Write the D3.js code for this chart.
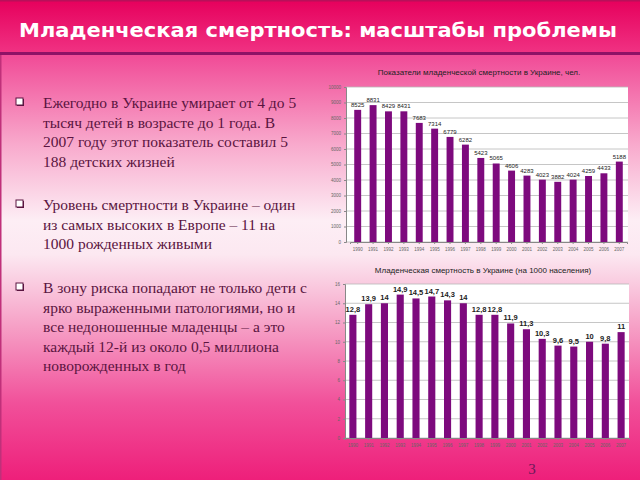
<!DOCTYPE html>
<html><head><meta charset="utf-8">
<script src="https://cdn.jsdelivr.net/npm/d3@7"></script>
<style>html,body{margin:0;padding:0;overflow:hidden;background:#fff}</style>
</head><body>
<script>
const years = ["1990","1991","1992","1993","1994","1995","1996","1997","1998","1999","2000","2001","2002","2003","2004","2005","2006","2007"];
const deaths = [8525,8831,8429,8431,7683,7314,6779,6282,5423,5065,4606,4283,4023,3882,4024,4259,4433,5188];
const rates = [12.8,13.9,14,14.9,14.5,14.7,14.3,14,12.8,12.8,11.9,11.3,10.3,9.6,9.5,10,9.8,11];
const deathTicks = [0,1000,2000,3000,4000,5000,6000,7000,8000,9000,10000];
const rateTicks = [0,2,4,6,8,10,12,14,16];
const title = "Младенческая смертность: масштабы проблемы";
const chart1Title = "Показатели младенческой смертности в Украине, чел.";
const chart2Title = "Младенческая смертность в Украине (на 1000 населения)";
const bullets = [
  ["Ежегодно в Украине умирает от 4 до 5","тысяч детей в возрасте до 1 года. В","2007 году этот показатель составил 5","188 детских жизней"],
  ["Уровень смертности в Украине – один","из самых высоких в Европе – 11 на","1000 рожденных живыми"],
  ["В зону риска попадают не только дети с","ярко выраженными патологиями, но и","все недоношенные младенцы – а это","каждый 12-й из около 0,5 миллиона","новорожденных в год"]
];

const svg = d3.select("body").append("svg").attr("width",640).attr("height",480);
const defs = svg.append("defs");
const bg = defs.append("linearGradient").attr("id","bg").attr("x1",0).attr("y1",0).attr("x2",0).attr("y2",1);
[[0,"#ee3d8f"],[0.12,"#f14d98"],[0.3,"#f8a9cc"],[0.46,"#fdeef5"],[0.53,"#fce8f1"],[0.68,"#f6a0c6"],[0.84,"#f1509a"],[1,"#ee1f7a"]]
  .forEach(s=>bg.append("stop").attr("offset",s[0]).attr("stop-color",s[1]));
const hd = defs.append("linearGradient").attr("id","hd").attr("x1",0).attr("y1",0).attr("x2",0).attr("y2",1);
[[0,"#e6005c"],[1,"#f03283"]].forEach(s=>hd.append("stop").attr("offset",s[0]).attr("stop-color",s[1]));

svg.append("rect").attr("width",640).attr("height",480).attr("fill","url(#bg)");
svg.append("rect").attr("width",640).attr("height",53).attr("fill","url(#hd)");
svg.append("rect").attr("y",0).attr("width",640).attr("height",1.5).attr("fill","#b8105a");
svg.append("rect").attr("y",52).attr("width",640).attr("height",3).attr("fill","#8e1266");
svg.append("rect").attr("x",0).attr("y",55).attr("width",1.5).attr("height",425).attr("fill","#c0307a");
svg.append("text").attr("x",318).attr("y",37).attr("text-anchor","middle")
  .attr("font-family","'DejaVu Sans',sans-serif").attr("font-weight","bold").attr("font-size",20)
  .attr("fill","#fff").attr("textLength",598).attr("lengthAdjust","spacingAndGlyphs").text(title);

// bullets
const lineH = 19.6;
const starts = [103,205,288];
const tg = svg.append("g").attr("font-family","'Liberation Serif','DejaVu Serif',serif").attr("font-size",15.5).attr("fill","#5a1440");
bullets.forEach((b,i)=>{
  const y0 = starts[i];
  tg.append("rect").attr("x",17).attr("y",y0-4).attr("width",7).attr("height",7).attr("fill","#5a1440");
  tg.append("rect").attr("x",16).attr("y",y0-5).attr("width",7).attr("height",7).attr("fill","#fff").attr("stroke","#5a1440").attr("stroke-width",1);
  b.forEach((l,j)=>{
    tg.append("text").attr("x",43).attr("y",y0+5+j*lineH).text(l);
  });
});
svg.append("text").attr("x",532).attr("y",474).attr("text-anchor","middle").attr("font-family","'Liberation Serif',serif")
  .attr("font-size",15).attr("fill","#6a1a58").text("3");

function chart(opt){
  const g = svg.append("g");
  const x = d3.scaleBand().domain(years).range(opt.xr).paddingInner(0.55).paddingOuter(0.275);
  const y = d3.scaleLinear().domain([0,opt.max]).range(opt.yr);
  g.append("rect").attr("x",opt.px[0]).attr("y",opt.yr[1]).attr("width",opt.px[1]-opt.px[0]).attr("height",opt.yr[0]-opt.yr[1]).attr("fill","#fff");
  g.selectAll("line.grid").data(opt.ticks).join("line").attr("class","grid")
    .attr("x1",opt.px[0]).attr("x2",opt.px[1]).attr("y1",d=>y(d)).attr("y2",d=>y(d)).attr("stroke","#b8b8b8").attr("stroke-width",0.8);
  const ya = g.append("g").attr("transform",`translate(${opt.px[0]},0)`)
    .call(d3.axisLeft(y).tickValues(opt.ticks).tickSize(2).tickFormat(opt.tf));
  ya.select(".domain").attr("stroke","#888");
  ya.selectAll(".tick line").attr("stroke","#888");
  ya.selectAll("text").attr("font-size",4.5).attr("fill","#666").attr("font-family","Arial,'Liberation Sans',sans-serif");
  const xa = g.append("g").attr("transform",`translate(0,${opt.yr[0]})`).call(d3.axisBottom(x).tickSize(2));
  xa.select(".domain").attr("stroke","#888");
  xa.selectAll(".tick line").attr("stroke","#888");
  xa.selectAll("text").attr("font-size",4.5).attr("fill","#666").attr("dy","0.9em").attr("font-family","Arial,'Liberation Sans',sans-serif");
  g.selectAll("rect.bar").data(opt.vals).join("rect").attr("class","bar")
    .attr("x",(d,i)=>x(years[i])).attr("width",x.bandwidth())
    .attr("y",d=>y(d)).attr("height",d=>y(0)-y(d)).attr("fill","#7d0a7d");
  g.selectAll("text.lab").data(opt.vals).join("text").attr("class","lab")
    .attr("x",(d,i)=>x(years[i])+x.bandwidth()/2).attr("y",d=>y(d)-opt.lo)
    .attr("text-anchor","middle").attr("font-family","Arial,'Liberation Sans',sans-serif")
    .attr("font-size",opt.lfs).attr("font-weight",opt.lfw).attr("fill","#222").text(opt.lf);
  svg.append("text").attr("x",opt.tx).attr("y",opt.ty).attr("text-anchor","middle")
    .attr("font-family","Arial,'Liberation Sans',sans-serif").attr("font-size",8).attr("fill","#222").text(opt.title);
}
chart({xr:[350,627],px:[346,628],yr:[242,87],max:10000,ticks:deathTicks,vals:deaths,tf:d3.format("d"),lf:d=>d,lfs:6,lfw:"normal",lo:3,title:chart1Title,tx:479,ty:75});
chart({xr:[345,629],px:[345,629],yr:[438,284],max:16,ticks:rateTicks,vals:rates,tf:d3.format("d"),lf:d=>String(d).replace(".",","),lfs:7.5,lfw:"bold",lo:3,title:chart2Title,tx:483,ty:273});
</script>
</body></html>
